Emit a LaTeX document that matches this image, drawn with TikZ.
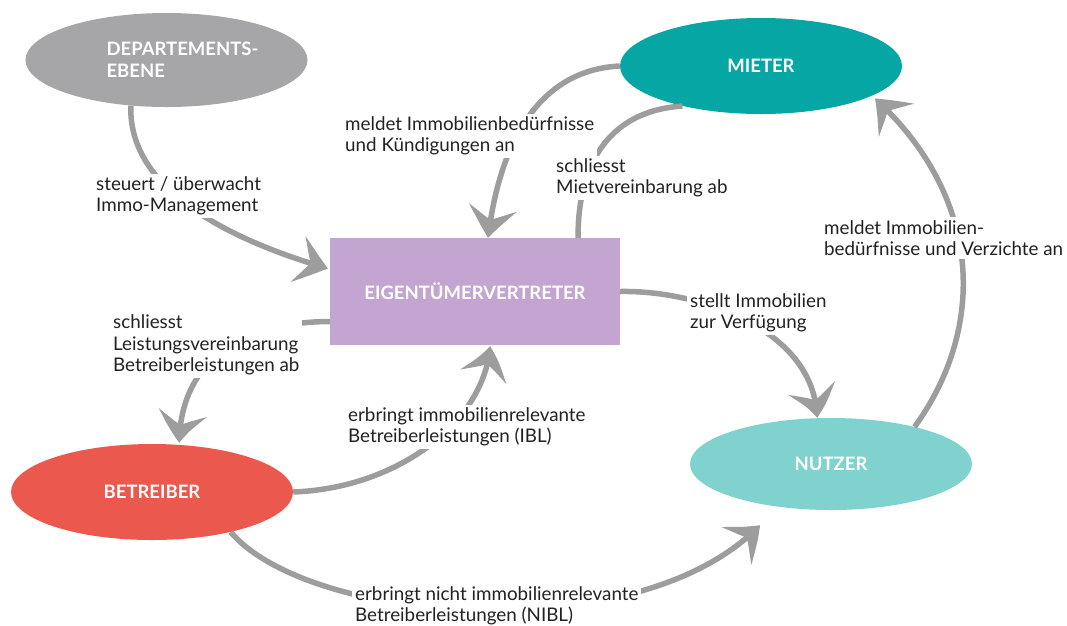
\documentclass[tikz,border=0pt]{standalone}
\usepackage{fontspec}
\setmainfont{Lato}
\usetikzlibrary{arrows.meta,shapes.geometric,calc,bending}
\definecolor{depgray}{HTML}{A6A6A8}
\definecolor{mietercol}{HTML}{05A6A3}
\definecolor{eigcol}{HTML}{C4A5D1}
\definecolor{betrcol}{HTML}{EB584D}
\definecolor{nutzercol}{HTML}{80D2CF}
\definecolor{conncol}{HTML}{9D9D9D}
\definecolor{labcol}{HTML}{222222}
\tikzset{
  actor/.style={ellipse, inner sep=0pt, minimum width=282pt, minimum height=94pt,
    text=white, font=\fontsize{18.5}{22}\selectfont\bfseries, align=left},
  conn/.style={draw=conncol, line width=5.5pt},
  arr/.style={conn, -{Stealth[length=31pt,width=48pt,inset=13pt,bend]}},
  lab/.style={fill=white, inner sep=3pt, anchor=west, align=left, text=labcol,
    font=\fontsize{18.8}{21.5}\selectfont}
}
\begin{document}
\begin{tikzpicture}[x=1pt,y=-1pt]
\useasboundingbox (0,0) rectangle (1067,625);
% nodes
\node[actor, fill=depgray,
  label={[xshift=16pt, text=white, font=\fontsize{18.5}{22}\selectfont\bfseries, align=left]center:DEPARTEMENTS-\\EBENE}] (dep) at (166.5,60) {};
\node[actor, fill=mietercol, minimum height=96pt] (mieter) at (761,66) {MIETER};
\node[fill=eigcol, minimum width=290pt, minimum height=107pt, inner sep=0pt,
  text=white, font=\fontsize{18.5}{22}\selectfont\bfseries] (eig) at (475,291.5) {EIGENTÜMERVERTRETER};
\node[actor, fill=betrcol, minimum height=96pt] (betr) at (152,492) {BETREIBER};
\node[actor, fill=nutzercol, minimum height=92pt] (nutzer) at (831,464) {NUTZER};
% connectors
\draw[arr] (dep.232) .. controls (128,190) and (230,240) .. ($(eig.west)+(-2,-23)$);
\draw[arr] (mieter.west) .. controls (540,70) and (500,140) .. ($(eig.north)+(13,0)$);
\draw[conn] ($(eig.north)+(103,0)$) .. controls (578,150) and (620,110) .. (mieter.207);
\draw[arr] (nutzer.24) .. controls (985,330) and (985,200) .. ($(mieter.346)+(0,4)$);
\draw[arr] (eig.east) .. controls (700,290) and (815,330) .. ($(nutzer.north)+(-14,0)$);
\draw[arr] ($(eig.west)+(0,30)$) .. controls (230,322) and (180,370) .. ($(betr.60)+(0,-2)$);
\draw[arr] (betr.east) .. controls (400,488) and (485,420) .. ($(eig.south)+(15,1)$);
\draw[arr] (betr.333) .. controls (310,625) and (640,650) .. ($(nutzer.south)+(-71,15)$);
% labels
\node[lab] (l1) at (93,196) {steuert / überwacht\\Immo-Management};
\node[lab] (l2) at (342,136) {meldet Immobilienbedürfnisse\\und Kündigungen an};
\node[lab] (l3) at (553,178) {schliesst\\Mietvereinbarung ab};
\node[lab] (l4) at (821,238) {meldet Immobilien-\\bedürfnisse und Verzichte an};
\node[lab] (l5) at (687,313) {stellt Immobilien\\zur Verfügung};
\node[lab] (l6) at (110,345) {schliesst\\Leistungsvereinbarung\\Betreiberleistungen ab};
\node[lab] (l7) at (345,427) {erbringt immobilienrelevante\\Betreiberleistungen (IBL)};
\node[lab] (l8) at (352,606) {erbringt nicht immobilienrelevante\\Betreiberleistungen (NIBL)};
\end{tikzpicture}
\end{document}
